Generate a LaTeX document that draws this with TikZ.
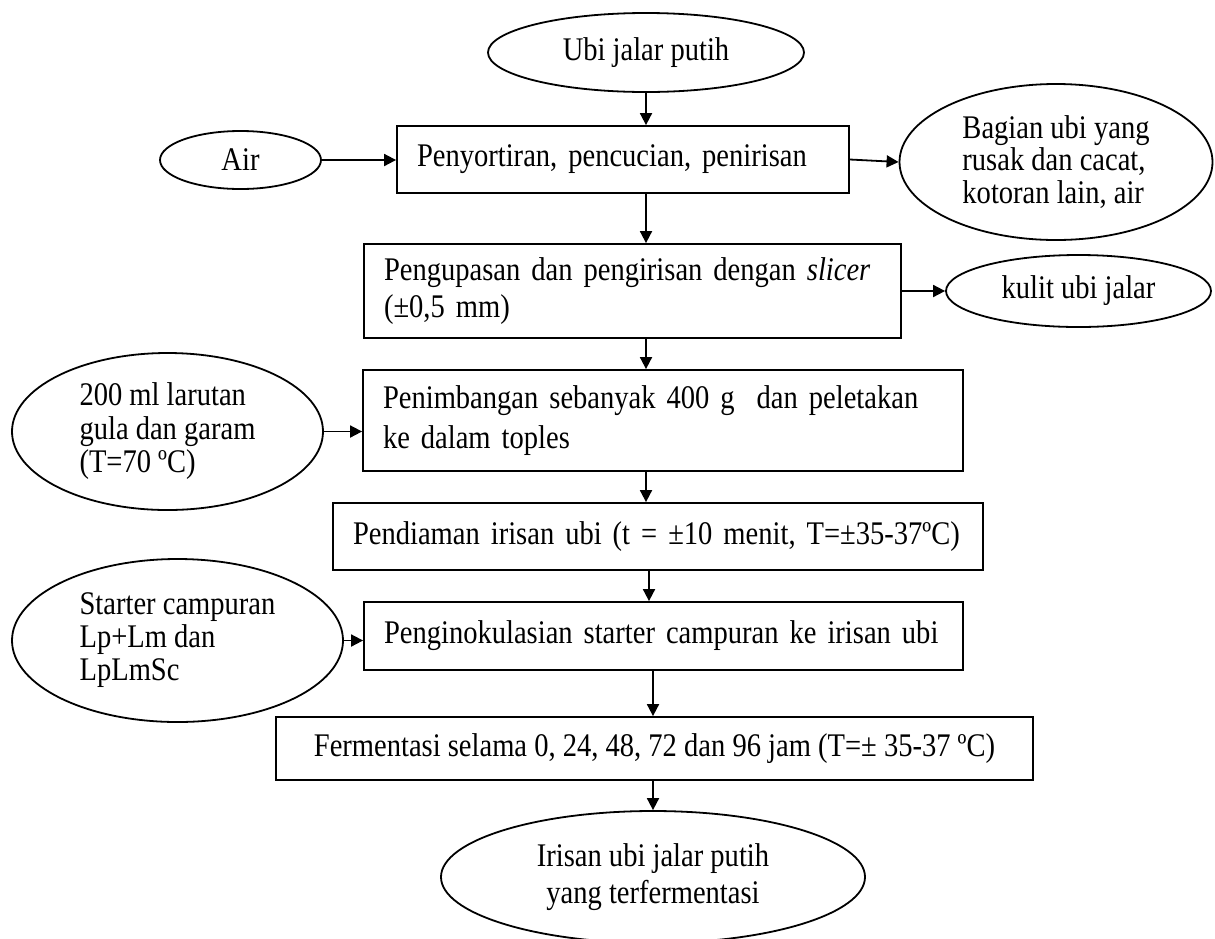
\documentclass[tikz,border=0pt]{standalone}
\usepackage{fontspec}
\setmainfont{Liberation Serif}[FakeStretch=0.865]
\usetikzlibrary{arrows.meta,shapes.geometric}

\begin{document}
\begin{tikzpicture}[x=1pt,y=-1pt,>={Triangle[length=12pt,width=12pt]},line width=1.8pt,
  font=\fontsize{33}{33}\selectfont,
  proc/.style={draw,rectangle,align=left,inner xsep=20pt,inner ysep=0pt},
  oval/.style={draw,ellipse,inner sep=-40pt,align=left}]
\useasboundingbox (0,0) rectangle (1215,938);
% bahan dan hasil samping
\node[oval,minimum width=316pt,minimum height=79pt] (ubi) at (646,52.5) {Ubi jalar putih};
\node[oval,minimum width=161pt,minimum height=58pt] (air) at (240.5,160) {Air};
\node[oval,minimum width=313pt,minimum height=156pt,font=\fontsize{33}{32.5}\selectfont] (bagian) at (1056,162)
  {Bagian ubi yang\\rusak dan cacat,\\kotoran lain, air};
\node[oval,minimum width=265pt,minimum height=72pt] (kulit) at (1078.5,291) {kulit ubi jalar};
\node[oval,minimum width=311pt,minimum height=157pt,font=\fontsize{33}{33.5}\selectfont] (larutan) at (167.5,431.5)
  {200 ml larutan\\gula dan garam\\(T=70 ºC)};
\node[oval,minimum width=331pt,minimum height=163pt] (starter) at (177.5,640.5)
  {Starter campuran\\Lp+Lm dan\\LpLmSc};
\node[oval,align=center,minimum width=424pt,minimum height=132pt,font=\fontsize{33}{37}\selectfont] (hasil) at (653,877)
  {Irisan ubi jalar putih\\yang terfermentasi};
% tahapan proses
\node[proc,text width=412pt,minimum height=67pt] (sortir) at (623,159.5) {Penyortiran, pencucian, penirisan};
\node[proc,text width=497pt,minimum height=94pt,font=\fontsize{33}{37}\selectfont] (kupas) at (632.5,291)
  {Pengupasan dan pengirisan dengan \textit{slicer}\\(±0,5 mm)};
\node[proc,text width=560pt,minimum height=101pt,font=\fontsize{33}{40}\selectfont] (timbang) at (663,420.5)
  {Penimbangan sebanyak 400 g~ dan peletakan\\ke dalam toples};
\node[proc,text width=610pt,minimum height=67pt] (diam) at (658,536.5)
  {Pendiaman irisan ubi (t = ±10 menit, T=±35-37ºC)};
\node[proc,text width=559pt,minimum height=68pt] (inokulasi) at (663.5,636)
  {Penginokulasian starter campuran ke irisan ubi};
\node[draw,rectangle,align=center,minimum width=757pt,minimum height=63pt] (fermentasi) at (654.5,748.5)
  {Fermentasi selama 0, 24, 48, 72 dan 96 jam (T=± 35-37 ºC)};
% panah
\draw[->] (ubi.south) -- (ubi.south |- sortir.north);
\draw[->] (air.east) -- (air.east -| sortir.west);
\draw[->] (sortir.east) -- (bagian.west);
\draw[->] (sortir.south -| ubi.south) -- (kupas.north -| ubi.south);
\draw[->] (kupas.east) -- (kulit.west);
\draw[->] (kupas.south -| ubi.south) -- (timbang.north -| ubi.south);
\draw[->] (larutan.east) -- (larutan.east -| timbang.west);
\draw[->] (timbang.south -| ubi.south) -- (diam.north -| ubi.south);
\draw[->] ([xshift=3pt]diam.south -| ubi.south) -- ([xshift=3pt]inokulasi.north -| ubi.south);
\draw[->] (starter.east) -- (starter.east -| inokulasi.west);
\draw[->] (inokulasi.south -| hasil.north) -- (fermentasi.north -| hasil.north);
\draw[->] (fermentasi.south -| hasil.north) -- (hasil.north);
\end{tikzpicture}
\end{document}
